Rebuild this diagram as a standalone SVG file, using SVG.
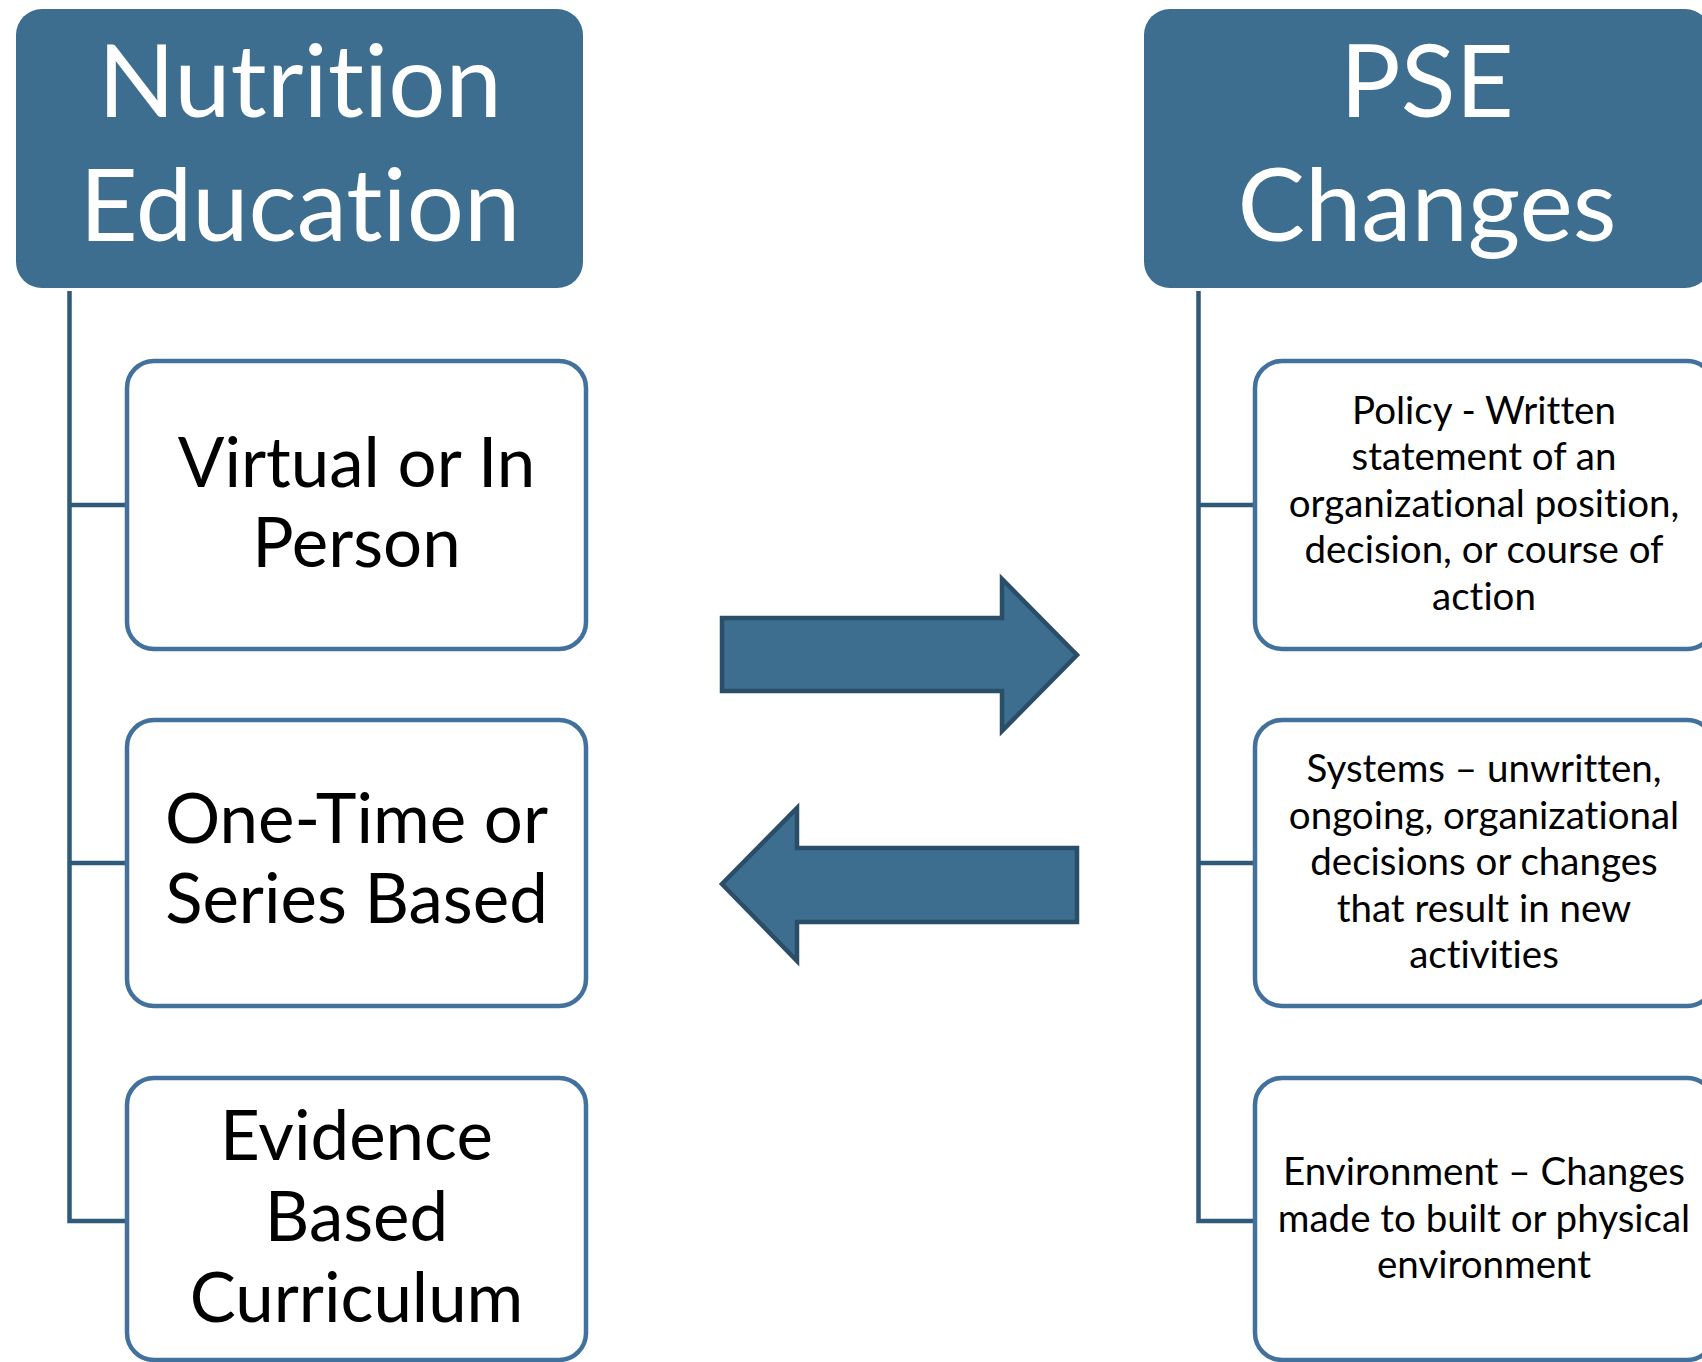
<svg xmlns="http://www.w3.org/2000/svg" width="1702" height="1362" viewBox="0 0 1702 1362">
<style>
text{font-family:Lato,"Open Sans",sans-serif;font-variant-ligatures:none;font-feature-settings:"liga" 0,"clig" 0;text-anchor:middle}
.hdr{fill:#3D6E8F}
.hdrtxt{font-size:101px;fill:#fff}
.box{fill:#fff;stroke:#41719C;stroke-width:4.5}
.ltxt{font-size:69px;fill:#000}
.rtxt{font-size:38.5px;fill:#000}
.conn{fill:none;stroke:#2F5A7A;stroke-width:4.5}
.arrow{fill:#3D6E8F;stroke:#2A4D68;stroke-width:4.5;stroke-linejoin:miter}
</style>
<rect width="1702" height="1362" fill="#fff"/>
<g id="connectors">
<path class="conn" d="M69.5,291 V1221 H127 M69.5,505 H127 M69.5,863 H127"/>
<path class="conn" d="M1198.5,291 V1221 H1255 M1198.5,505 H1255 M1198.5,863 H1255"/>
</g>
<g id="nutrition-education">
<rect class="hdr" x="16" y="9" width="567" height="279" rx="26"/>
<text class="hdrtxt" x="300" y="117">Nutrition</text>
<text class="hdrtxt" x="300" y="241">Education</text>
</g>
<g id="pse-changes">
<rect class="hdr" x="1144" y="9" width="567" height="279" rx="26"/>
<text class="hdrtxt" x="1427" y="117">PSE</text>
<text class="hdrtxt" x="1427" y="241">Changes</text>
</g>
<g id="virtual">
<rect class="box" x="127" y="361" width="459" height="288" rx="27"/>
<text class="ltxt" x="356.5" y="487">Virtual or In</text>
<text class="ltxt" x="356.5" y="567">Person</text>
</g>
<g id="onetime">
<rect class="box" x="127" y="720" width="459" height="286" rx="27"/>
<text class="ltxt" x="356.5" y="843">One-Time or</text>
<text class="ltxt" x="356.5" y="923">Series Based</text>
</g>
<g id="evidence">
<rect class="box" x="127" y="1078" width="459" height="282" rx="27"/>
<text class="ltxt" x="356.5" y="1160">Evidence</text>
<text class="ltxt" x="356.5" y="1241">Based</text>
<text class="ltxt" x="356.5" y="1322">Curriculum</text>
</g>
<g id="policy">
<rect class="box" x="1255" y="361" width="459" height="288" rx="27"/>
<text class="rtxt" x="1484" y="424">Policy - Written</text>
<text class="rtxt" x="1484" y="470">statement of an</text>
<text class="rtxt" x="1484" y="517">organizational position,</text>
<text class="rtxt" x="1484" y="563">decision, or course of</text>
<text class="rtxt" x="1484" y="610">action</text>
</g>
<g id="systems">
<rect class="box" x="1255" y="720" width="459" height="286" rx="27"/>
<text class="rtxt" x="1484" y="782">Systems – unwritten,</text>
<text class="rtxt" x="1484" y="829">ongoing, organizational</text>
<text class="rtxt" x="1484" y="875">decisions or changes</text>
<text class="rtxt" x="1484" y="922">that result in new</text>
<text class="rtxt" x="1484" y="968">activities</text>
</g>
<g id="environment">
<rect class="box" x="1255" y="1078" width="459" height="282" rx="27"/>
<text class="rtxt" x="1484" y="1185">Environment – Changes</text>
<text class="rtxt" x="1484" y="1232">made to built or physical</text>
<text class="rtxt" x="1484" y="1278">environment</text>
</g>
<g id="arrow-right">
<path class="arrow" d="M722,618 H1002 V579 L1077,655 L1002,731 V691 H722 Z"/>
</g>
<g id="arrow-left">
<path class="arrow" d="M1077,848 H797 V808 L722,884 L797,961 V922 H1077 Z"/>
</g>
</svg>
